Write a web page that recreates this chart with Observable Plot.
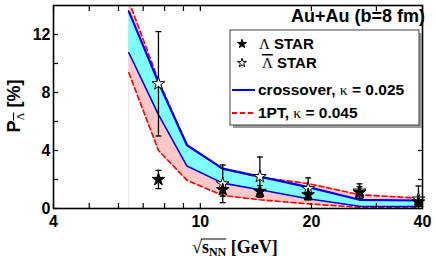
<!DOCTYPE html>
<html><head><meta charset="utf-8">
<script src="https://cdn.jsdelivr.net/npm/d3@7"></script>
<script src="https://cdn.jsdelivr.net/npm/@observablehq/plot@0.6"></script>
<style>body{margin:0;background:#fff} svg{display:block}</style>
</head><body><div id="chart"></div>
<script>
// Model bands (collision energy in GeV, polarization in %)
const energies   = [6.4, 7.7, 9.2, 11.5, 14.5, 19.6, 27, 39];
const crossUpper = [13.6, 8.7, 4.36, 2.75, 2.2, 1.47, 0.6, 0.55];
const crossLower = [10.74, 6.47, 2.93, 1.75, 1.29, 0.67, 0.16, 0.14];
const fptUpper   = [14.3, 8.85, 4.4, 2.72, 2.15, 1.72, 0.95, 0.72];
const fptLower   = [9.36, 4.0, 1.94, 0.9, 0.6, 0.32, 0.08, 0.03];

// STAR data
const starEnergies = [7.7, 11.5, 14.5, 19.6, 27, 39];
const lambdaP   = [2.0, 1.3, 1.18, 0.95, 1.1, 0.45];
const lambdaErr = [0.63, 0.45, 0.4, 0.35, 0.4, 0.3];
const antiP     = [8.6, 1.7, 2.2, 1.36, 1.2, 0.65];
const antiErr   = [3.6, 1.3, 1.35, 0.75, 0.5, 0.9];

const xTicks = [4, 6, 8, 10, 20, 40];
const xMinor = [5, 7, 9, 30];
const yTicks = [0, 4, 8, 12];
const yMinor = [2, 6, 10];

const bands = energies.map((e, i) => ({e, cu: crossUpper[i], cl: crossLower[i], fu: fptUpper[i], fl: fptLower[i]}));
const lam = starEnergies.map((e, i) => ({e, p: lambdaP[i], lo: lambdaP[i] - lambdaErr[i], hi: lambdaP[i] + lambdaErr[i]}));
const anti = starEnergies.map((e, i) => ({e, p: antiP[i], lo: antiP[i] - antiErr[i], hi: antiP[i] + antiErr[i]}));

const cap = {draw(ctx, size) { const r = Math.sqrt(size / Math.PI); ctx.moveTo(-r, 0); ctx.lineTo(r, 0); }};

const BLUE = "#0000ee", RED = "#ff0000";
const errMarks = (data) => [
  Plot.ruleX(data, {x: "e", y1: "lo", y2: "hi", stroke: "black", strokeWidth: 1.3, clip: true}),
  Plot.dot(data, {x: "e", y: "hi", symbol: cap, r: 3, stroke: "black", strokeWidth: 1.3, clip: true}),
  Plot.dot(data.filter(d => d.lo >= 0), {x: "e", y: "lo", symbol: cap, r: 3, stroke: "black", strokeWidth: 1.3, clip: true})
];

const chart = Plot.plot({
  width: 436, height: 261,
  marginLeft: 53, marginRight: 14, marginTop: 5, marginBottom: 53,
  style: {fontFamily: "'Liberation Sans', Arial, sans-serif", background: "#fff", color: "#000"},
  x: {type: "log", domain: [4, 40]},
  y: {domain: [0, 14]},
  marks: [
    Plot.ruleX([energies[0]], {stroke: "#e4e4e4", strokeWidth: 1}),
    Plot.areaY(bands, {x: "e", y1: "fl", y2: "fu", fill: "#ffc8c8", clip: true}),
    Plot.areaY(bands, {x: "e", y1: "cl", y2: "cu", fill: "#80ffff", clip: true}),
    Plot.line(bands, {x: "e", y: "fu", stroke: RED, strokeWidth: 1.6, strokeDasharray: "5,3", clip: true}),
    Plot.line(bands, {x: "e", y: "fl", stroke: RED, strokeWidth: 1.6, strokeDasharray: "5,3", clip: true}),
    Plot.line(bands, {x: "e", y: "cu", stroke: BLUE, strokeWidth: 2.2, clip: true}),
    Plot.line(bands, {x: "e", y: "cl", stroke: BLUE, strokeWidth: 1.6, clip: true}),
    ...errMarks(anti),
    ...errMarks(lam),
    Plot.dot(anti, {x: "e", y: "p", symbol: "star", r: 4, fill: "white", stroke: "black", strokeWidth: 1}),
    Plot.dot(lam, {x: "e", y: "p", symbol: "star", r: 4, fill: "black", stroke: "black", strokeWidth: 1}),
    Plot.frame({stroke: "black", strokeWidth: 1.6}),
    // tick labels
    Plot.axisX(xTicks, {anchor: "bottom", tickSize: 0, tickPadding: 7, tickFormat: d => String(d), fontSize: 16, fontWeight: "bold", label: null}),
    Plot.axisY(yTicks, {anchor: "left", tickSize: 0, tickPadding: 3, tickFormat: d => String(d), fontSize: 16, fontWeight: "bold", label: null}),
    // inward ticks
    Plot.axisX(xTicks.concat(xMinor), {anchor: "bottom", tickSize: -5, fill: "none", label: null, strokeWidth: 1.2}),
    Plot.axisX(xTicks.concat(xMinor), {anchor: "top", tickSize: -5, fill: "none", label: null, strokeWidth: 1.2}),
    Plot.axisY(yTicks.concat(yMinor), {anchor: "left", tickSize: -5, fill: "none", label: null, strokeWidth: 1.2}),
    Plot.axisY(yTicks.concat(yMinor), {anchor: "right", tickSize: -5, fill: "none", label: null, strokeWidth: 1.2})
  ]
});
document.getElementById("chart").appendChild(chart);

const svg = d3.select(chart);
const SANS = "'Liberation Sans', Arial, sans-serif";
const SERIF = "'Liberation Serif', 'Times New Roman', serif";

// Title
svg.append("text").attr("x", 425).attr("y", 22).attr("text-anchor", "end")
  .attr("font-family", SANS).attr("font-size", 18).attr("font-weight", "bold").text("Au+Au (b=8 fm)");

// Legend
const lg = svg.append("g").attr("text-anchor", "start");
lg.append("rect").attr("x", 233).attr("y", 33).attr("width", 189).attr("height", 95).attr("fill", "#9a9a9a");
lg.append("rect").attr("x", 230).attr("y", 30).attr("width", 189).attr("height", 95).attr("fill", "white").attr("stroke", "#444").attr("stroke-width", 1);
const starPath = d3.symbol(d3.symbolStar, Math.PI * 2.8 * 2.8)();
lg.append("path").attr("d", starPath).attr("transform", "translate(242,44)").attr("fill", "black").attr("stroke", "black");
lg.append("path").attr("d", starPath).attr("transform", "translate(242,63)").attr("fill", "white").attr("stroke", "black");
const t1 = lg.append("text").attr("x", 259).attr("y", 49).attr("font-family", SANS).attr("font-size", 15).attr("font-weight", "bold");
t1.append("tspan").attr("font-family", SERIF).attr("font-weight", "normal").text("Λ");
t1.append("tspan").text(" STAR");
const t2 = lg.append("text").attr("x", 262).attr("y", 68).attr("font-family", SANS).attr("font-size", 15).attr("font-weight", "bold");
t2.append("tspan").attr("font-family", SERIF).attr("font-weight", "normal").style("text-decoration", "overline").text("Λ");
t2.append("tspan").text(" STAR");
lg.append("line").attr("x1", 232).attr("x2", 255).attr("y1", 90).attr("y2", 90).attr("stroke", BLUE).attr("stroke-width", 2);
lg.append("line").attr("x1", 232).attr("x2", 255).attr("y1", 113).attr("y2", 113).attr("stroke", RED).attr("stroke-width", 2).attr("stroke-dasharray", "5,3");
const t3 = lg.append("text").attr("x", 258).attr("y", 95).attr("font-family", SANS).attr("font-size", 15.5).attr("font-weight", "bold");
t3.append("tspan").text("crossover, ");
t3.append("tspan").attr("font-family", SERIF).attr("font-weight", "normal").text("κ");
t3.append("tspan").text(" = 0.025");
const t4 = lg.append("text").attr("x", 258).attr("y", 118).attr("font-family", SANS).attr("font-size", 15.5).attr("font-weight", "bold");
t4.append("tspan").text("1PT, ");
t4.append("tspan").attr("font-family", SERIF).attr("font-weight", "normal").text("κ");
t4.append("tspan").text(" = 0.045");

// Y label
const yl = svg.append("text").attr("transform", "translate(20,106) rotate(-90)").attr("text-anchor", "middle")
  .attr("font-family", SANS).attr("font-size", 18).attr("font-weight", "bold");
yl.append("tspan").text("P");
yl.append("tspan").attr("font-family", SERIF).attr("font-weight", "normal").attr("font-size", 11).attr("dy", 4).style("text-decoration", "overline").text("Λ");
yl.append("tspan").attr("dy", -4).text(" [%]");

// X label
const xl = svg.append("text").attr("x", 192).attr("y", 253).attr("text-anchor", "start")
  .attr("font-family", SERIF).attr("font-size", 18).attr("font-weight", "bold");
xl.append("tspan").attr("font-weight", "normal").text("√");
xl.append("tspan").text("s");
xl.append("tspan").attr("font-size", 12).attr("dy", 3).text("NN");
xl.append("tspan").attr("dy", -3).text(" [GeV]");
// overline of the root sign
const bb = xl.node().getBBox();
const len = xl.node().getSubStringLength(0, 4);
svg.append("line").attr("x1", 192 + 9).attr("x2", 192 + len).attr("y1", bb.y + 2).attr("y2", bb.y + 2).attr("stroke", "black").attr("stroke-width", 1);
</script></body></html>
